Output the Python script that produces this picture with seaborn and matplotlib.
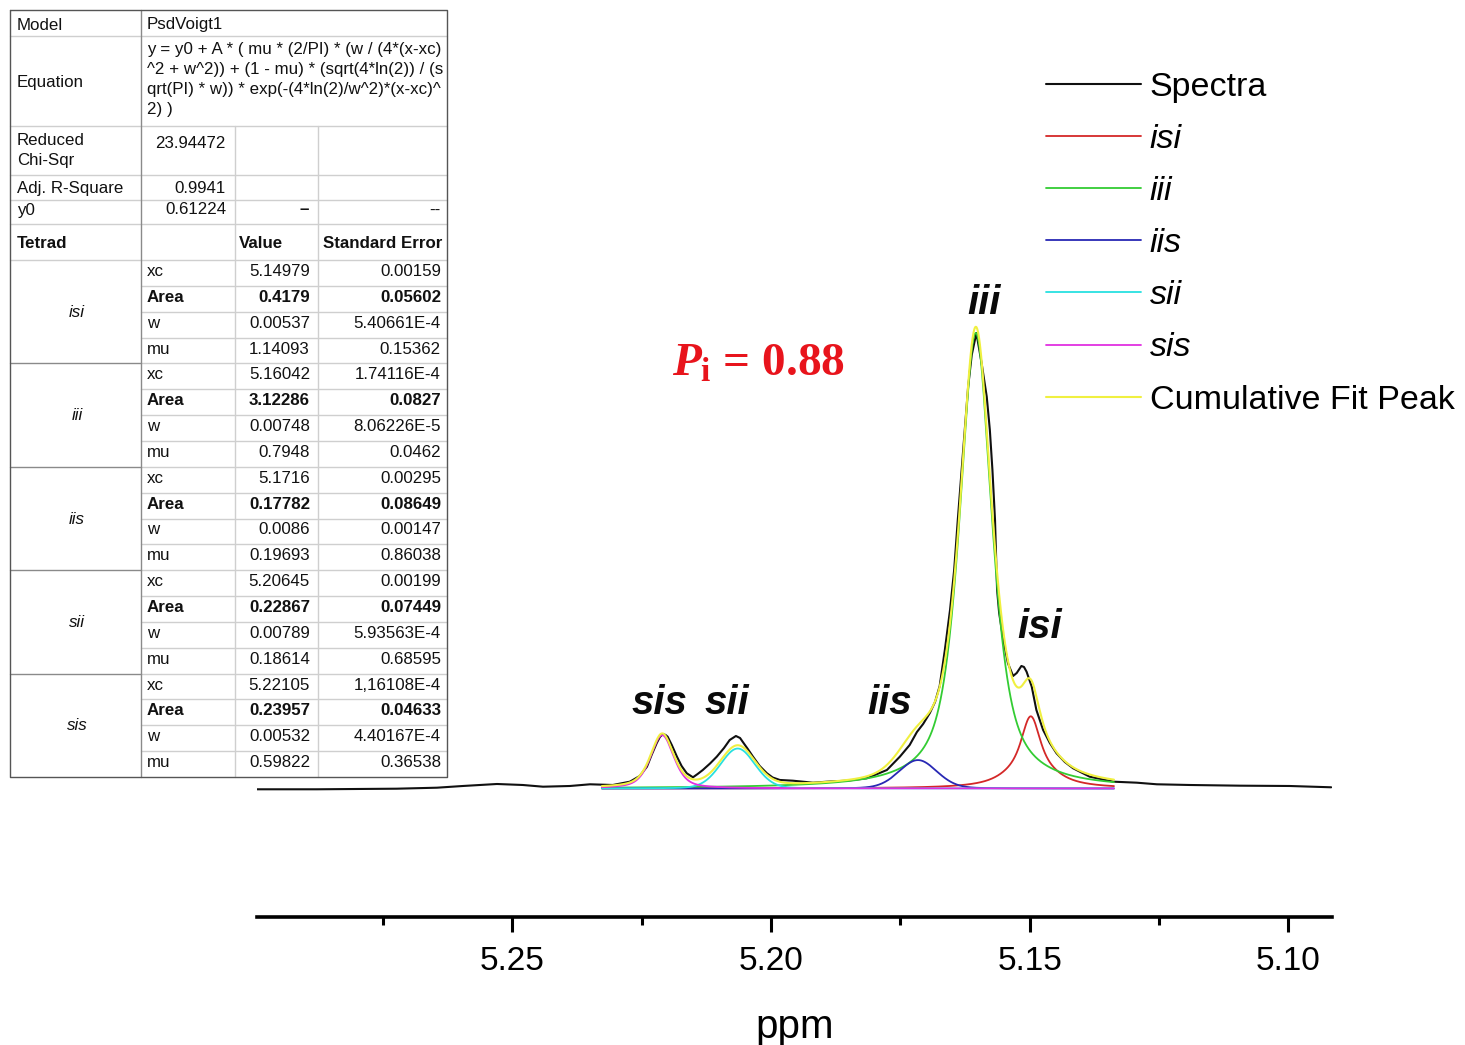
import numpy as np
import pandas as pd
import matplotlib
matplotlib.use("Agg")
import matplotlib.pyplot as plt
import seaborn as sns

# ---------------- data ----------------
# measured spectrum (read from the picture): chemical shift (ppm) and intensity
spectra_ppm = [5.2994, 5.2878, 5.2724, 5.2646, 5.2596, 5.2530, 5.2480, 5.2441, 5.2389, 5.2350,
               5.2306, 5.2273, 5.2254, 5.2240, 5.2231, 5.2221, 5.2215, 5.2209, 5.2204, 5.2200,
               5.2192, 5.2182, 5.2173, 5.2163, 5.2151, 5.2142, 5.2132, 5.2118, 5.2105, 5.2091,
               5.2080, 5.2068, 5.2060, 5.2055, 5.2045, 5.2035, 5.2022, 5.2008, 5.1997, 5.1983,
               5.1958, 5.1919, 5.1886, 5.1853, 5.1815, 5.1790, 5.1776, 5.1751, 5.1732, 5.1718,
               5.1706, 5.1693, 5.1683, 5.1674, 5.1664, 5.1654, 5.1646, 5.1639, 5.1629, 5.1619,
               5.1612, 5.1603, 5.1593, 5.1583, 5.1577, 5.1572, 5.1567, 5.1563, 5.1559, 5.1551,
               5.1542, 5.1532, 5.1525, 5.1516, 5.1511, 5.1506, 5.1496, 5.1487, 5.1474, 5.1461,
               5.1448, 5.1432, 5.1416, 5.1384, 5.1338, 5.1293, 5.1254, 5.1190, 5.1093, 5.0997,
               5.0917]
spectra_int = [0.10, 0.10, 0.48, 1.12, 2.21, 3.49, 2.85, 1.76, 2.21, 3.30,
               2.85, 4.97, 8.62, 14.57, 22.07, 29.75, 33.59, 35.51, 34.87, 33.78,
               28.47, 20.98, 15.02, 10.35, 7.78, 9.90, 12.46, 16.62, 20.98, 26.55,
               31.67, 34.23, 32.95, 30.58, 25.91, 20.98, 15.02, 10.35, 7.66, 6.06,
               5.61, 4.33, 5.09, 5.61, 7.14, 10.54, 12.46, 20.98, 28.47, 36.79,
               41.92, 48.96, 56.00, 66.25, 89.31, 114.92, 140.54, 172.56, 215.47, 257.74,
               278.23, 292.32, 273.11, 251.52, 230.20, 204.58, 172.56, 127.73, 113.00, 95.71,
               80.79, 72.66, 74.58, 79.06, 78.42, 75.41, 65.80, 50.88, 38.07, 29.75,
               23.15, 17.58, 13.55, 8.17, 4.97, 4.33, 3.30, 2.85, 2.41, 2.21,
               1.38]

# fit report (PsdVoigt1) as printed in the table
model_name = "PsdVoigt1"
equation_lines = ["y = y0 + A * ( mu * (2/PI) * (w / (4*(x-xc)",
                  "^2 + w^2)) + (1 - mu) * (sqrt(4*ln(2)) / (s",
                  "qrt(PI) * w)) * exp(-(4*ln(2)/w^2)*(x-xc)^",
                  "2) )"]
reduced_chi_sqr = "23.94472"
adj_r_square = "0.9941"
y0_value = "0.61224"
tetrad_names = ["isi", "iii", "iis", "sii", "sis"]
param_names = ["xc", "Area", "w", "mu"]
tetrad_values = [["5.14979", "0.4179", "0.00537", "1.14093"],
                 ["5.16042", "3.12286", "0.00748", "0.7948"],
                 ["5.1716", "0.17782", "0.0086", "0.19693"],
                 ["5.20645", "0.22867", "0.00789", "0.18614"],
                 ["5.22105", "0.23957", "0.00532", "0.59822"]]
tetrad_errors = [["0.00159", "0.05602", "5.40661E-4", "0.15362"],
                 ["1.74116E-4", "0.0827", "8.06226E-5", "0.0462"],
                 ["0.00295", "0.08649", "0.00147", "0.86038"],
                 ["0.00199", "0.07449", "5.93563E-4", "0.68595"],
                 ["1,16108E-4", "0.04633", "4.40167E-4", "0.36538"]]
fit_ppm_start, fit_ppm_end = 5.2327, 5.1337

series_colors = {"Spectra": "#101010", "isi": "#d42828", "iii": "#33cc33", "iis": "#2828b4",
                 "sii": "#28e0e0", "sis": "#e030e0", "Cumulative Fit Peak": "#f0f040"}

xticks_major = [5.25, 5.20, 5.15, 5.10]
xtick_labels = ["5.25", "5.20", "5.15", "5.10"]
xticks_minor = [5.275, 5.225, 5.175, 5.125]
pi_text = r"$\mathit{P}_{\mathrm{i}}$ = 0.88"

# ---------------- style ----------------
sns.set_theme(style="white")
plt.rcParams["font.family"] = ["Liberation Sans", "DejaVu Sans"]
plt.rcParams["text.color"] = "black"
plt.rcParams["axes.labelcolor"] = "black"
plt.rcParams["xtick.color"] = "black"
plt.rcParams["mathtext.fontset"] = "custom"
plt.rcParams["mathtext.it"] = "Liberation Serif:italic:bold"
plt.rcParams["mathtext.rm"] = "Liberation Serif:bold"
plt.rcParams["mathtext.bf"] = "Liberation Serif:bold"

W, H = 1465, 1045
fig = plt.figure(figsize=(W / 100, H / 100), dpi=100)
fig.patch.set_facecolor("white")

ax = fig.add_axes([257 / W, (H - 917) / H, (1331.7 - 257) / W, (917 - 60) / H])
ax.set_facecolor("none")

# ---------------- curves ----------------
def pseudo_voigt(x, y0, xc, A, w, mu):
    return y0 + A * (mu * (2 / np.pi) * (w / (4 * (x - xc) ** 2 + w ** 2))
                     + (1 - mu) * (np.sqrt(4 * np.log(2)) / (np.sqrt(np.pi) * w))
                     * np.exp(-(4 * np.log(2) / w ** 2) * (x - xc) ** 2))

y0 = float(y0_value)
xfit = np.linspace(fit_ppm_end, fit_ppm_start, 1200)
handles = []

spec_df = pd.DataFrame({"ppm": spectra_ppm, "intensity": spectra_int})
sns.lineplot(data=spec_df, x="ppm", y="intensity", ax=ax, color=series_colors["Spectra"],
             lw=1.5, legend=False)
handles.append(ax.lines[-1])

cumulative = np.full_like(xfit, y0)
for name, vals in zip(tetrad_names, tetrad_values):
    xc, A, w, mu = (float(v) for v in vals)
    yk = pseudo_voigt(xfit, y0, xc, A, w, mu)
    cumulative += yk - y0
    sns.lineplot(x=xfit, y=yk, ax=ax, color=series_colors[name], lw=1.3, legend=False)
    handles.append(ax.lines[-1])

sns.lineplot(x=xfit, y=cumulative, ax=ax, color=series_colors["Cumulative Fit Peak"], lw=1.5,
             legend=False)
handles.append(ax.lines[-1])

# ---------------- axes ----------------
ax.set_xlim(5.2994, 5.0916)
ax.set_ylim(-81.68, 467.1)
ax.set_yticks([])
ax.set_ylabel("")
for s in ["left", "right", "top"]:
    ax.spines[s].set_visible(False)
ax.spines["bottom"].set_linewidth(2.6)
ax.spines["bottom"].set_color("black")
ax.set_xticks(xticks_major)
ax.set_xticklabels(xtick_labels)
ax.set_xticks(xticks_minor, minor=True)
ax.tick_params(axis="x", which="major", direction="out", length=11, width=2.2, color="black",
               labelsize=24, labelcolor="black", pad=10, bottom=True)
ax.tick_params(axis="x", which="minor", direction="out", length=6, width=2.2, color="black",
               bottom=True)
ax.set_xlabel("ppm", fontsize=29, labelpad=22, color="black")
ax.grid(False)

# peak annotations
peak_label_pos = {"sis": (5.2215, 48.3), "sii": (5.2085, 48.3), "iis": (5.1771, 48.3),
                  "iii": (5.1589, 304.5), "isi": (5.1480, 97.0)}
for name, (px, py) in peak_label_pos.items():
    ax.text(px, py, name, ha="center", va="baseline", fontsize=29, fontweight="bold",
            fontstyle="italic", color="#0a0a0a")

ax.text(5.2192, 264.8, pi_text, color="#e8141c", fontsize=34, fontfamily="Liberation Serif",
        fontweight="bold", ha="left", va="baseline")

# legend
labels = ["Spectra"] + tetrad_names + ["Cumulative Fit Peak"]
leg = ax.legend(handles, labels, loc="upper left", bbox_to_anchor=(1046 / W, 1 - 72 / H),
                bbox_transform=fig.transFigure, frameon=False, fontsize=24.5,
                handlelength=2.79, handletextpad=0.26, labelspacing=0.62, borderpad=0,
                borderaxespad=0)
for t, lab in zip(leg.get_texts(), labels):
    t.set_color("black")
    if lab in tetrad_names:
        t.set_fontstyle("italic")

# ---------------- fit report table ----------------
tab = fig.add_axes([0, 0, 1, 1])
tab.set_xlim(0, W)
tab.set_ylim(H, 0)
tab.axis("off")

light, mid, dark = "#cfcfcf", "#8a8a8a", "#555555"
row_h = (777 - 260) / 20.0
for yb in [36, 126, 175, 200, 224, 260]:
    tab.plot([10, 447], [yb, yb], color=light, lw=1.0)
for k in range(1, 20):
    yb = 260 + row_h * k
    tab.plot([141, 447], [yb, yb], color=light, lw=1.0)
    if k % 4 == 0:
        tab.plot([10, 141], [yb, yb], color=mid, lw=1.0)
tab.plot([141, 141], [10, 777], color=mid, lw=1.0)
for xv in [235, 318]:
    tab.plot([xv, xv], [126, 777], color=light, lw=1.0)
tab.plot([10, 447, 447, 10, 10], [10, 10, 777, 777, 10], color=dark, lw=1.0)

fs = 12.2
tc = "#111111"
def ttext(x, y, s, ha="left", **kw):
    tab.text(x, y, s, ha=ha, va="baseline", fontsize=fs, color=tc, **kw)

ttext(17, 29.5, "Model")
ttext(147, 29.5, model_name)
ttext(17, 87.3, "Equation")
for i, line in enumerate(equation_lines):
    ttext(147, 54 + 20 * i, line)
ttext(17, 145, "Reduced")
ttext(17, 165, "Chi-Sqr")
ttext(226, 148, reduced_chi_sqr, ha="right")
ttext(17, 193.3, "Adj. R-Square")
ttext(226, 193.3, adj_r_square, ha="right")
ttext(17, 214.5, "y0")
ttext(226, 214.5, y0_value, ha="right")
ttext(309, 214.5, "\u2013", ha="right", fontweight="bold")
ttext(441, 214.5, "--", ha="right")
ttext(17, 248, "Tetrad", fontweight="bold")
ttext(239, 248, "Value", fontweight="bold")
ttext(323, 248, "Standard Error", fontweight="bold")

for g, name in enumerate(tetrad_names):
    top = 260 + row_h * 4 * g
    ttext(77, top + 2 * row_h + 5, name, ha="center", fontstyle="italic")
    for r, pname in enumerate(param_names):
        rt = top + row_h * r
        fw = "bold" if pname == "Area" else "normal"
        ttext(147, rt + 16, pname, fontweight=fw)
        ttext(310, rt + 16, tetrad_values[g][r], ha="right", fontweight=fw)
        ttext(441, rt + 16, tetrad_errors[g][r], ha="right", fontweight=fw)

fig.savefig("out.png", dpi=100, facecolor="white")
